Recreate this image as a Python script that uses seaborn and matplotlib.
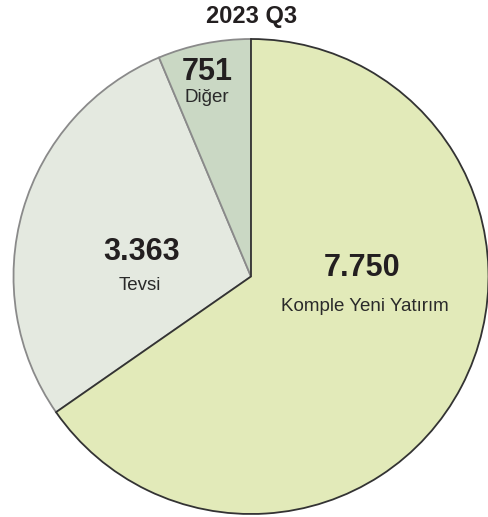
import matplotlib

matplotlib.use("Agg")
import matplotlib.pyplot as plt
import seaborn as sns

# data
categories = ["Komple Yeni Yatırım", "Tevsi", "Diğer"]
values = [7750, 3363, 751]
value_labels = ["7.750", "3.363", "751"]
title = "2023 Q3"

colors = ["#e2eab9", "#e4e9e0", "#cad8c4"]
edges = ["#333333", "#8a8a8a", "#8a8a8a"]

sns.set_theme(style="white")
plt.rcParams["font.family"] = ["Liberation Sans", "DejaVu Sans"]

fig = plt.figure(figsize=(4.89, 5.17), dpi=100)
ax = fig.add_axes([13.5 / 489, 3 / 517, 475 / 489, 475 / 517])

wedges, _ = ax.pie(
    values, colors=colors, startangle=90, counterclock=False,
    wedgeprops=dict(linewidth=1.3),
)
for w, ec in zip(wedges, edges):
    w.set_edgecolor(ec)
wedges[0].set_zorder(3)
ax.set_xlim(-1, 1); ax.set_ylim(-1, 1)
ax.set_aspect("equal")
ax.axis("off")

# label anchors (pixel centres in the reference, converted to data units)
def _pos(px, py):
    return (px - 251) / 237.5, (276 - py) / 237.5

anchors = [((362, 268), (365, 306)), ((142, 252), (140, 285)), ((207, 71), (207, 97))]
for (num_xy, lab_xy), num, cat in zip(anchors, value_labels, categories):
    ax.text(*_pos(*num_xy), num, ha="center", va="center", fontsize=22,
            fontweight="bold", color="#231f20", zorder=5)
    ax.text(*_pos(*lab_xy), cat, ha="center", va="center", fontsize=13.5,
            color="#2a2a2a", zorder=5)

fig.text(252 / 489, 1 - 16 / 517, title, ha="center", va="center",
         fontsize=17, fontweight="bold", color="#231f20")

fig.savefig("out.png", dpi=100)
